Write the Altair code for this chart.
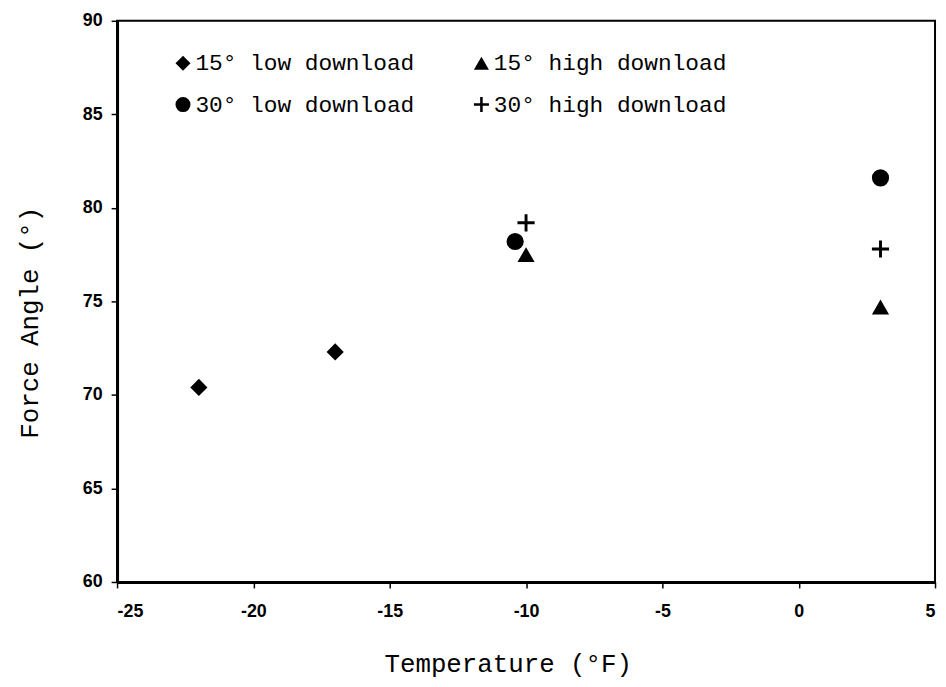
import altair as alt
import pandas as pd

series_names = ["15° low download", "15° high download", "30° low download", "30° high download"]
temps_15_low = [-22, -17]
angle_15_low = [70.4, 72.3]
temps_15_high = [-10, 3]
angle_15_high = [77.5, 74.7]
temps_30_low = [-10.4, 3]
angle_30_low = [78.2, 81.6]
temps_30_high = [-10, 3]
angle_30_high = [79.2, 77.8]

x_ticks = [-25, -20, -15, -10, -5, 0, 5]
y_ticks = [60, 65, 70, 75, 80, 85, 90]

rows = []
for name, xs, ys in zip(series_names,
                        [temps_15_low, temps_15_high, temps_30_low, temps_30_high],
                        [angle_15_low, angle_15_high, angle_30_low, angle_30_high]):
    for xv, yv in zip(xs, ys):
        rows.append({"series": name, "temp": xv, "angle": yv})
df = pd.DataFrame(rows)

plus_path = "M-1,-0.17H-0.17V-1H0.17V-0.17H1V0.17H0.17V1H-0.17V0.17H-1Z"
shapes = ["diamond", "triangle-up", "circle", plus_path]

chart = alt.Chart(df).mark_point(
    filled=True, color="black", size=300, opacity=1, strokeWidth=0
).encode(
    x=alt.X("temp:Q", scale=alt.Scale(domain=[-25, 5], nice=False, zero=False),
            axis=alt.Axis(values=x_ticks, title="Temperature (°F)", grid=False,
                          labelExpr="datum.value + ''",
                          tickSize=6, labelPadding=15, titlePadding=30,
                          titleX=394, domainWidth=3)),
    y=alt.Y("angle:Q", scale=alt.Scale(domain=[60, 90], nice=False, zero=False),
            axis=alt.Axis(values=y_ticks, title="Force Angle (°)", grid=False,
                          labelExpr="datum.value + ''",
                          tickSize=6, labelPadding=9, titlePadding=40, titleY=304,
                          domainWidth=3)),
    shape=alt.Shape("series:N", scale=alt.Scale(domain=series_names, range=shapes),
                    legend=alt.Legend(title=None, orient="none", legendX=55, legendY=31,
                                      direction="horizontal",
                                      columns=2, columnPadding=56, rowPadding=18,
                                      symbolSize=230, labelOffset=1, padding=0,
                                      symbolFillColor="black", symbolStrokeWidth=0,
                                      symbolOpacity=1)),
).properties(
    width=825, height=566, autosize="none",
    padding={"left": 110, "top": 10, "right": 3, "bottom": 102}
).configure_view(
    stroke="black", strokeWidth=2
).configure_axis(
    labelFont="Liberation Sans", labelFontSize=18, labelFontWeight="bold", labelColor="black",
    titleFont="Liberation Mono", titleFontSize=26, titleFontWeight="normal", titleColor="black",
    domainColor="black", tickColor="black", tickWidth=1.5
).configure_legend(
    labelFont="Liberation Mono", labelFontSize=23, labelColor="black", labelLimit=400
)

chart.save("out.html", embed_options={"renderer": "svg", "actions": False})
